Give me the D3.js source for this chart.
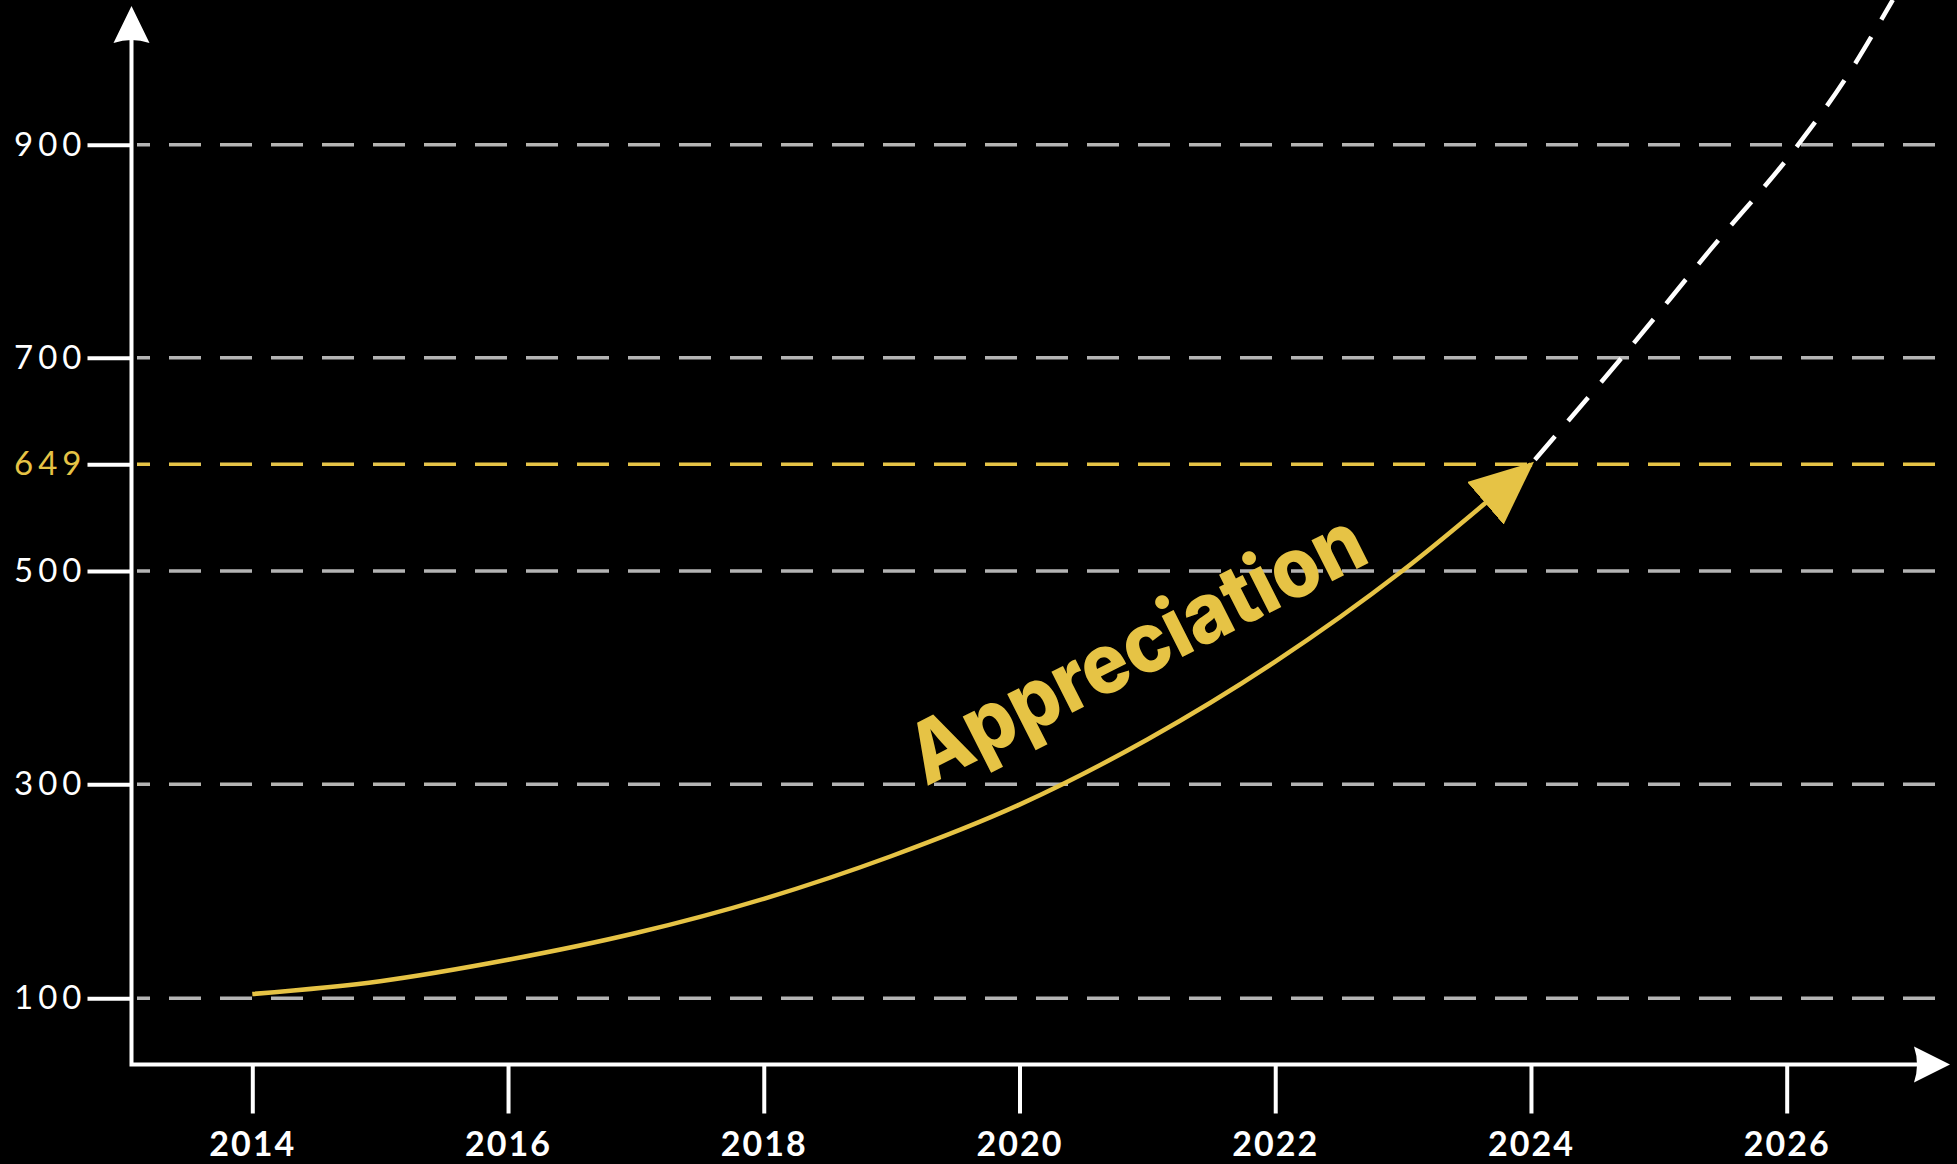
<!DOCTYPE html>
<html>
<head>
<meta charset="utf-8">
<script src="https://d3js.org/d3.v7.min.js"></script>
<style>
  body { margin: 0; background: #000; }
  svg { display: block; }
</style>
</head>
<body>
<div id="chart"></div>
<script>
// Data
var years = [2014, 2015, 2016, 2017, 2018, 2019, 2020, 2021, 2022, 2023, 2024];
var values = [104, 116, 136, 161, 193, 233, 281, 342, 415, 501, 649];

// dashed projection after 2024
var projYears = [2024, 2024.71, 2025.4, 2026.09, 2026.46, 2026.83];
var projValues = [649, 700, 801, 900, 962, 1036];

var yTicks = [100, 300, 500, 649, 700, 900];
var xTicks = [2014, 2016, 2018, 2020, 2022, 2024, 2026];
var highlight = 649;
var label = "Appreciation";
var labelAt = [2019.27, 298];

var svgWidth = 1957;
var svgHeight = 1164;

var yellow = "#E6C345";
var grey = "#b4b4b4";

var svg = d3.select("#chart")
  .append("svg")
  .attr("width", svgWidth)
  .attr("height", svgHeight)
  .style("background", "#000");

// Scales
// ==============================
var xScale = d3.scaleLinear()
  .domain([2014, 2026])
  .range([252.3, 1786.7]);

// the axis is not even: 649 sits half way between 500 and 700
var yScale = d3.scaleLinear()
  .domain([100, 300, 500, 649, 700, 900])
  .range([998.3, 784.3, 571, 464.3, 357.7, 144.7]);

var axisX = 131.5;
var axisY = 1064.5;

// Gridlines
// ==============================
svg.append("g")
  .selectAll("line")
  .data(yTicks)
  .enter()
  .append("line")
  .attr("x1", 137)
  .attr("x2", 1950)
  .attr("y1", d => yScale(d))
  .attr("y2", d => yScale(d))
  .attr("stroke", d => d === highlight ? yellow : grey)
  .attr("stroke-width", 3.5)
  .attr("stroke-dasharray", "32 19")
  .attr("stroke-dashoffset", 19);

// Curve with arrow
// ==============================
var defs = svg.append("defs");
defs.append("marker")
  .attr("id", "arrow")
  .attr("viewBox", "0 0 64 56")
  .attr("refX", 60)
  .attr("refY", 28)
  .attr("markerWidth", 64)
  .attr("markerHeight", 56)
  .attr("markerUnits", "userSpaceOnUse")
  .attr("orient", "auto")
  .append("path")
  .attr("d", "M0,0 L64,28 L0,56 Z")
  .attr("fill", yellow);

var line = d3.line()
  .x(d => xScale(d[0]))
  .y(d => yScale(d[1]))
  .curve(d3.curveMonotoneX);

svg.append("path")
  .datum(d3.zip(projYears, projValues))
  .attr("d", line)
  .attr("fill", "none")
  .attr("stroke", "#fff")
  .attr("stroke-width", 4.5)
  .attr("stroke-dasharray", "31 20")
  .attr("stroke-dashoffset", -6);

svg.append("path")
  .datum(d3.zip(years, values))
  .attr("d", line)
  .attr("fill", "none")
  .attr("stroke", yellow)
  .attr("stroke-width", 4.5)
  .attr("marker-end", "url(#arrow)");

// Label along the curve
svg.append("text")
  .attr("transform", `translate(${xScale(labelAt[0])}, ${yScale(labelAt[1])}) rotate(-26.8)`)
  .attr("font-family", "Inter, Lato, 'Open Sans', sans-serif")
  .attr("font-weight", 800)
  .attr("font-size", 84)
  .attr("textLength", 500)
  .attr("lengthAdjust", "spacingAndGlyphs")
  .attr("fill", yellow)
  .text(label);

// Axes
// ==============================
var leftAxis = d3.axisLeft(yScale)
  .tickValues(yTicks)
  .tickSize(44)
  .tickPadding(6);

var yAxis = svg.append("g")
  .attr("transform", `translate(${axisX}, 0)`)
  .call(leftAxis);
yAxis.select(".domain").remove();
yAxis.selectAll(".tick line")
  .attr("stroke", "#fff")
  .attr("stroke-width", 4);
yAxis.selectAll(".tick text")
  .attr("font-family", "Lato, 'DejaVu Sans', sans-serif")
  .attr("font-size", 33)
  .attr("letter-spacing", 5)
  .attr("dx", 5)
  .attr("fill", d => d === highlight ? yellow : "#fff");

var bottomAxis = d3.axisBottom(xScale)
  .tickValues(xTicks)
  .tickSize(49)
  .tickFormat(d3.format("d"))
  .tickPadding(18);

var xAxis = svg.append("g")
  .attr("transform", `translate(0, ${axisY})`)
  .call(bottomAxis);
xAxis.select(".domain").remove();
xAxis.selectAll(".tick line")
  .attr("stroke", "#fff")
  .attr("stroke-width", 4);
xAxis.selectAll(".tick text")
  .attr("font-family", "Lato, 'DejaVu Sans', sans-serif")
  .attr("font-weight", "bold")
  .attr("font-size", 34)
  .attr("letter-spacing", 2)
  .attr("fill", "#fff");

// axis lines with arrow heads
svg.append("path")
  .attr("d", `M${axisX},${axisY + 2} L${axisX},40 M${axisX - 2},${axisY} L1918,${axisY}`)
  .attr("fill", "none")
  .attr("stroke", "#fff")
  .attr("stroke-width", 4);

svg.append("path")
  .attr("d", `M${axisX},6 L${axisX + 18},43 Q${axisX},37 ${axisX - 18},43 Z`)
  .attr("fill", "#fff");

svg.append("path")
  .attr("d", `M1950,${axisY} L1914,${axisY - 18} Q1920,${axisY} 1914,${axisY + 18} Z`)
  .attr("fill", "#fff");
</script>
</body>
</html>
